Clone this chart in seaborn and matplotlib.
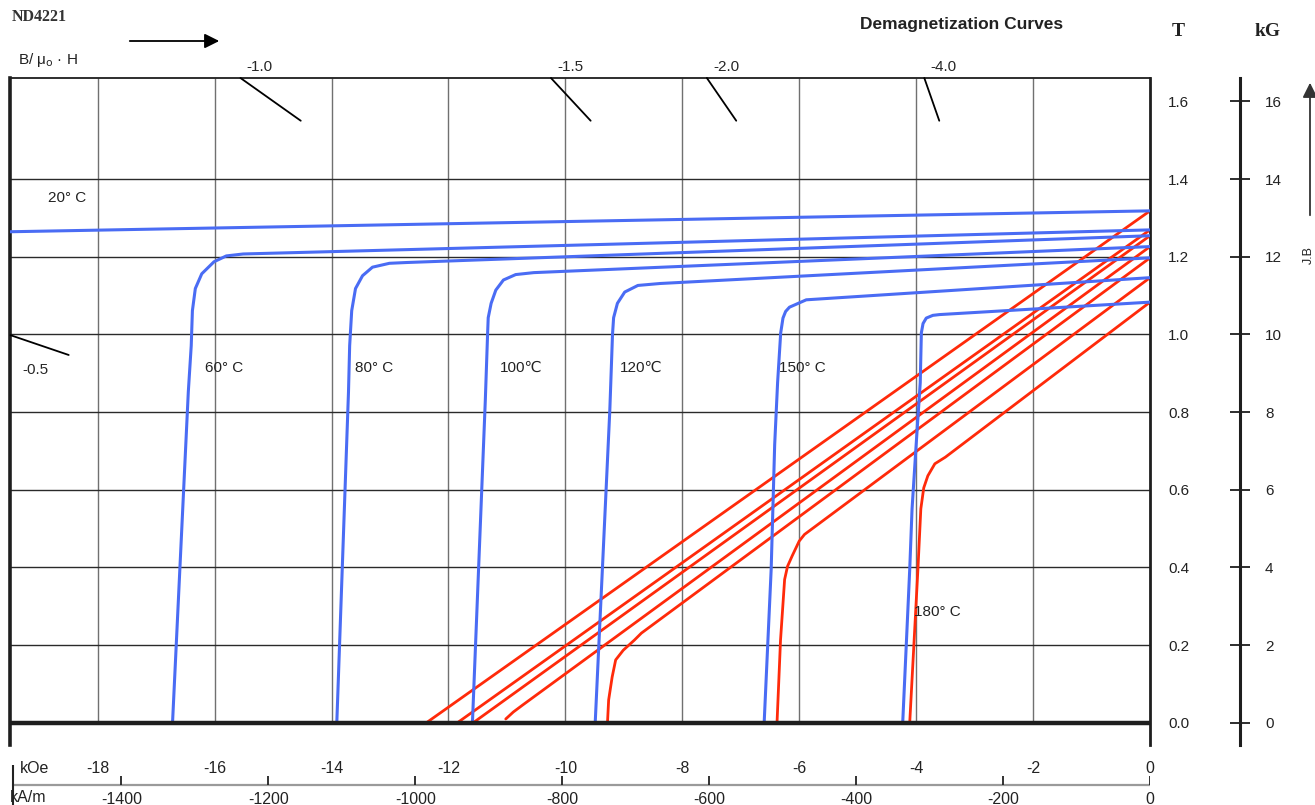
import numpy as np
import pandas as pd
import matplotlib
matplotlib.use('Agg')
import matplotlib.pyplot as plt
import seaborn as sns

# values: H in kOe, J / B in tesla
temps = ['20° C', '60° C', '80° C', '100℃', '120℃', '150° C', '180° C']

# intrinsic curves (blue)
j20_h = [-20.3, 0.0]
j20_b = [1.262, 1.318]
j60_h = [0.0, -15.51, -15.80, -16.01, -16.22, -16.33, -16.38, -16.40, -16.45, -16.72]
j60_b = [1.269, 1.207, 1.202, 1.187, 1.156, 1.118, 1.061, 0.971, 0.852, 0.0]
j80_h = [0.0, -12.72, -13.01, -13.30, -13.47, -13.59, -13.655, -13.69, -13.71, -13.91]
j80_b = [1.254, 1.185, 1.183, 1.173, 1.151, 1.118, 1.061, 0.971, 0.852, 0.0]
j100_h = [0.0, -10.54, -10.85, -11.06, -11.19, -11.27, -11.32, -11.33, -11.37, -11.59]
j100_b = [1.226, 1.159, 1.154, 1.140, 1.114, 1.080, 1.043, 1.004, 0.829, 0.0]
j120_h = [0.0, -8.38, -8.76, -8.985, -9.11, -9.175, -9.194, -9.24, -9.49]
j120_b = [1.197, 1.131, 1.126, 1.109, 1.080, 1.043, 1.000, 0.805, 0.0]
j150_h = [0.0, -5.88, -6.167, -6.233, -6.278, -6.317, -6.37, -6.42, -6.48, -6.60]
j150_b = [1.146, 1.089, 1.070, 1.059, 1.042, 1.004, 0.876, 0.716, 0.395, 0.0]
j180_h = [0.0, -3.60, -3.714, -3.827, -3.882, -3.911, -3.93, -4.00, -4.07, -4.11, -4.23]
j180_b = [1.083, 1.051, 1.049, 1.042, 1.028, 1.004, 0.876, 0.716, 0.551, 0.395, 0.0]

# normal curves (red)
b20_h = [0.0, -12.38]
b20_b = [1.318, 0.0]
b60_h = [0.0, -11.85]
b60_b = [1.269, 0.0]
b80_h = [0.0, -11.58]
b80_b = [1.254, 0.0]
b100_h = [0.0, -10.73, -10.89, -11.02]
b100_b = [1.226, 0.046, 0.028, 0.010]
b120_h = [0.0, -8.70, -8.82, -9.01, -9.14, -9.20, -9.26, -9.28]
b120_b = [1.197, 0.231, 0.213, 0.187, 0.162, 0.118, 0.059, 0.0]
b150_h = [0.0, -5.91, -6.00, -6.12, -6.20, -6.25, -6.32, -6.38]
b150_b = [1.146, 0.485, 0.468, 0.430, 0.403, 0.369, 0.213, 0.0]
b180_h = [0.0, -3.50, -3.68, -3.80, -3.87, -3.92, -3.97, -4.11]
b180_b = [1.083, 0.684, 0.667, 0.636, 0.605, 0.551, 0.395, 0.0]

# permeance (load) lines B/mu0H
load_labels = ['-0.5', '-1.0', '-1.5', '-2.0', '-4.0']
load_slopes = [0.512, 1.067, 1.62, 2.19, 4.3]

koe_ticks = [-18, -16, -14, -12, -10, -8, -6, -4, -2, 0]
kam_ticks = [-1400, -1200, -1000, -800, -600, -400, -200, 0]
t_ticks = [0.0, 0.2, 0.4, 0.6, 0.8, 1.0, 1.2, 1.4, 1.6]
kg_ticks = [0, 2, 4, 6, 8, 10, 12, 14, 16]

blue = '#4a6cf4'
red = '#ff2a0a'

# long table of all curves
j_curves = [j20_h, j60_h, j80_h, j100_h, j120_h, j150_h, j180_h]
j_vals = [j20_b, j60_b, j80_b, j100_b, j120_b, j150_b, j180_b]
b_curves = [b20_h, b60_h, b80_h, b100_h, b120_h, b150_h, b180_h]
b_vals = [b20_b, b60_b, b80_b, b100_b, b120_b, b150_b, b180_b]
rows = []
for t, hs, bs in zip(temps, j_curves, j_vals):
    for h, b in zip(hs, bs):
        rows.append({'H': h, 'B': b, 'kind': 'J', 'curve': 'J ' + t})
for t, hs, bs in zip(temps, b_curves, b_vals):
    for h, b in zip(hs, bs):
        rows.append({'H': h, 'B': b, 'kind': 'B', 'curve': 'B ' + t})
df = pd.DataFrame(rows)

sns.set_theme(style='white')
plt.rcParams['font.family'] = ['Liberation Sans', 'DejaVu Sans']

W, H = 1315, 805
fig = plt.figure(figsize=(W / 100, H / 100), dpi=100)
ax = fig.add_axes([10 / W, 60 / H, 1140 / W, 667 / H])

xmin, xmax = -19.5, 0.0
ymin, ymax = -0.057, 1.66
ax.set_xlim(xmin, xmax)
ax.set_ylim(ymin, ymax)

# grid
ax.vlines(koe_ticks[:-1], 0, ymax, color='#707070', lw=1.0, zorder=1)
ax.hlines(t_ticks[1:-1], xmin, xmax, color='#2a2a2a', lw=1.0, zorder=1)
ax.axhline(0, color='#1e1e1e', lw=3.2, zorder=4)

sns.lineplot(data=df[df.kind == 'B'], x='H', y='B', units='curve', estimator=None,
             sort=False, color=red, linewidth=2.0, ax=ax, legend=False, zorder=2,
             solid_joinstyle='round')
sns.lineplot(data=df[df.kind == 'J'], x='H', y='B', units='curve', estimator=None,
             sort=False, color=blue, linewidth=2.2, ax=ax, legend=False, zorder=3,
             solid_joinstyle='round')

# load line marks
for lab, p in zip(load_labels, load_slopes):
    if p < 0.6:
        bb = np.array([0.998, 0.947])
        off = (18, -25)
    else:
        bb = np.array([1.66, 1.55])
        off = (14, 8)
    hh = -bb / (0.1 * p)
    ax.plot(hh, bb, color='black', lw=1.3, zorder=5, clip_on=False)
    ax.annotate(lab, (hh[0], bb[0]), xytext=off, textcoords='offset points',
                ha='center', va='center', fontsize=11, annotation_clip=False)

# temperature labels
label_pos = [(-18.53, 1.351), (-15.84, 0.914), (-13.27, 0.914), (-10.76, 0.914),
             (-8.71, 0.914), (-5.95, 0.914), (-3.63, 0.286)]
for t, (x, y) in zip(temps, label_pos):
    ax.text(x, y, t, ha='center', va='center', fontsize=11, color='#222222')

# axes frame
for s in ['left', 'top', 'right', 'bottom']:
    ax.spines[s].set_color('#1e1e1e')
ax.spines['bottom'].set_visible(False)
ax.spines['left'].set_linewidth(2.6)
ax.spines['top'].set_linewidth(1.3)
ax.spines['right'].set_linewidth(2.0)
ax.set_xticks([])
ax.yaxis.tick_right()
ax.set_yticks(t_ticks)
ax.set_yticklabels([f'{v:.1f}' for v in t_ticks])
ax.tick_params(axis='y', length=0, pad=13, labelsize=11, labelcolor='#222222')
ax.set_xlabel('')
ax.set_ylabel('')

# kG scale
sec = ax.secondary_yaxis(1.079, functions=(lambda t: t * 10, lambda g: g / 10))
sec.set_yticks(kg_ticks)
sec.set_yticklabels([str(v) for v in kg_ticks])
sec.tick_params(direction='inout', length=14, width=1.3, pad=11, labelsize=11,
                color='#1e1e1e', labelcolor='#222222')
sec.spines['right'].set_linewidth(2.2)
sec.spines['right'].set_color('#1e1e1e')

# bottom H scale
axb = fig.add_axes([10 / W, 0, 1140 / W, 60 / H])
axb.set_xlim(xmin, xmax)
axb.set_ylim(0, 60)
axb.axis('off')
axb.plot([-19.45, 0], [20, 20], color='#9a9a9a', lw=1.6)
kam_as_koe = [v / 79.577 for v in kam_ticks]
axb.vlines(kam_as_koe, 20, 29, color='#222222', lw=1.3)
axb.vlines(-19.45, 0, 40, color='#222222', lw=1.5)
for v in koe_ticks:
    axb.text(v, 37, str(v), ha='center', va='center', fontsize=11.5, color='#222222')
for v, h in zip(kam_ticks, kam_as_koe):
    axb.text(h, 6, str(v), ha='center', va='center', fontsize=11.5, color='#222222')
axb.text(-19.33, 37, 'kOe', ha='left', va='center', fontsize=11.5, color='#222222')
axb.text(-19.5, 8, 'kA/m', ha='left', va='center', fontsize=11.5, color='#222222')


def fp(x, y):
    return x / W, 1 - y / H


fig.text(*fp(12, 17), 'ND4221', ha='left', va='center', fontsize=11.5,
         fontweight='bold', family='Liberation Serif', color='#333333')
fig.text(*fp(18, 60), r'B/ μ$_{\mathrm{o}}$ · H', ha='left', va='center', fontsize=11,
         color='#222222')
fig.text(*fp(860, 25), 'Demagnetization Curves', ha='left', va='center', fontsize=12.5,
         fontweight='bold', color='#222222')
fig.text(*fp(1178, 32), 'T', ha='center', va='center', fontsize=14,
         fontweight='bold', family='Liberation Serif', color='#222222')
fig.text(*fp(1268, 32), 'kG', ha='center', va='center', fontsize=14,
         fontweight='bold', family='Liberation Serif', color='#222222')
fig.text(*fp(1309, 255), 'J.B', ha='center', va='center', fontsize=9, rotation=90,
         color='#222222')
fig.add_artist(matplotlib.patches.FancyArrowPatch(
    fp(127, 41), fp(222, 41), transform=fig.transFigure, arrowstyle='-|>',
    mutation_scale=22, lw=1.3, color='black'))
fig.add_artist(matplotlib.patches.FancyArrowPatch(
    fp(1310, 218), fp(1310, 80), transform=fig.transFigure, arrowstyle='-|>',
    mutation_scale=22, lw=1.3, color='#333333'))

fig.savefig('out.png', dpi=100)
